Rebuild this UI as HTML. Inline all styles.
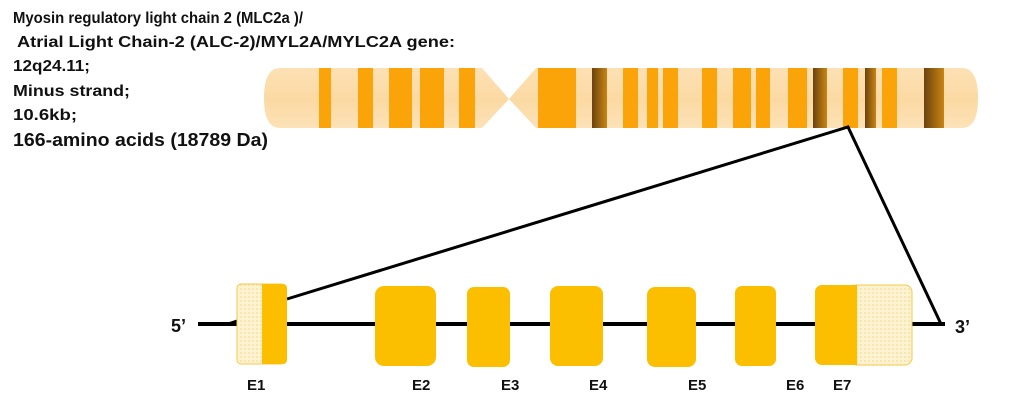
<!DOCTYPE html>
<html><head><meta charset="utf-8"><style>
html,body{margin:0;padding:0;background:#fff;}
svg{display:block;}
text{font-family:"Liberation Sans",sans-serif;font-weight:bold;fill:#111;}
</style></head><body>
<svg width="1024" height="419" viewBox="0 0 1024 419" xmlns="http://www.w3.org/2000/svg">
<defs>
<linearGradient id="chr" x1="0" y1="0" x2="0" y2="1">
<stop offset="0" stop-color="#fde3b8"/><stop offset="0.5" stop-color="#fbd9a3"/><stop offset="1" stop-color="#fde6c0"/>
</linearGradient>
<linearGradient id="dk" x1="0" y1="0" x2="1" y2="0">
<stop offset="0" stop-color="#6b4310"/><stop offset="1" stop-color="#c98512"/>
</linearGradient>
<pattern id="hat" width="4" height="4" patternUnits="userSpaceOnUse">
<rect width="4" height="4" fill="#fdf3d2"/><circle cx="1" cy="1" r="0.7" fill="#f0d27a"/>
</pattern>
<clipPath id="cc">
<path d="M280,68 L482,68 L509,99 L536,68 L962,68 Q978,68 978,98 Q978,128 962,128 L536,128 L509,99 L482,128 L280,128 Q264,128 264,98 Q264,68 280,68 Z"/>
</clipPath>
</defs>
<text x="13" y="23" font-size="16" textLength="290" lengthAdjust="spacingAndGlyphs">Myosin regulatory light chain 2 (MLC2a )/</text>
<text x="17" y="47" font-size="16" textLength="438" lengthAdjust="spacingAndGlyphs">Atrial Light Chain-2 (ALC-2)/MYL2A/MYLC2A gene:</text>
<text x="13" y="71" font-size="16" textLength="77" lengthAdjust="spacingAndGlyphs">12q24.11;</text>
<text x="13" y="96" font-size="16" textLength="117" lengthAdjust="spacingAndGlyphs">Minus strand;</text>
<text x="13" y="120" font-size="16" textLength="64" lengthAdjust="spacingAndGlyphs">10.6kb;</text>
<text x="13" y="146" font-size="18" textLength="255" lengthAdjust="spacingAndGlyphs">166-amino acids (18789 Da)</text>

<g clip-path="url(#cc)">
<rect x="260" y="60" width="730" height="80" fill="url(#chr)"/>
<g fill="#fba40a">
<rect x="319" y="60" width="12" height="80"/>
<rect x="358" y="60" width="15" height="80"/>
<rect x="389" y="60" width="23" height="80"/>
<rect x="420" y="60" width="24" height="80"/>
<rect x="459" y="60" width="16" height="80"/>
<rect x="538" y="60" width="38" height="80"/>
<rect x="623" y="60" width="15" height="80"/>
<rect x="647" y="60" width="11" height="80"/>
<rect x="663" y="60" width="15" height="80"/>
<rect x="702" y="60" width="15" height="80"/>
<rect x="733" y="60" width="18" height="80"/>
<rect x="756" y="60" width="14" height="80"/>
<rect x="788" y="60" width="19" height="80"/>
<rect x="843" y="60" width="15" height="80"/>
<rect x="882" y="60" width="15" height="80"/>
</g>
<g fill="url(#dk)">
<rect x="592" y="60" width="15" height="80"/>
<rect x="813" y="60" width="14" height="80"/>
<rect x="865" y="60" width="11" height="80"/>
<rect x="924" y="60" width="20" height="80"/>
</g>
</g>

<line x1="198" y1="324" x2="945" y2="324" stroke="#000" stroke-width="4"/>
<polyline points="287,299 848,127 941,324" fill="none" stroke="#000" stroke-width="3"/>
<line x1="228" y1="324" x2="240" y2="320" stroke="#000" stroke-width="3"/>

<rect x="237" y="284" width="48" height="80" rx="4" fill="url(#hat)" stroke="#f6c945" stroke-width="1"/>
<rect x="262" y="284" width="25" height="80" rx="4" fill="#fcbf00"/>
<rect x="262" y="284" width="8" height="80" fill="#fcbf00"/>
<rect x="375" y="286" width="61" height="80" rx="9" fill="#fcbf00"/>
<rect x="467" y="287" width="43" height="80" rx="7" fill="#fcbf00"/>
<rect x="550" y="286" width="53" height="80" rx="8" fill="#fcbf00"/>
<rect x="647" y="287" width="49" height="80" rx="8" fill="#fcbf00"/>
<rect x="735" y="286" width="41" height="80" rx="7" fill="#fcbf00"/>
<rect x="850" y="285" width="62" height="80" rx="7" fill="url(#hat)" stroke="#f6c945" stroke-width="1"/>
<rect x="815" y="285" width="42" height="80" rx="7" fill="#fcbf00"/>
<rect x="845" y="285" width="12" height="80" fill="#fcbf00"/>

<text x="171" y="332" font-size="18">5’</text>
<text x="955" y="333" font-size="18">3’</text>
<g font-size="15">
<text x="247" y="390">E1</text>
<text x="412" y="390">E2</text>
<text x="501" y="390">E3</text>
<text x="589" y="390">E4</text>
<text x="688" y="390">E5</text>
<text x="786" y="390">E6</text>
<text x="833" y="390">E7</text>
</g>
</svg>
</body></html>
